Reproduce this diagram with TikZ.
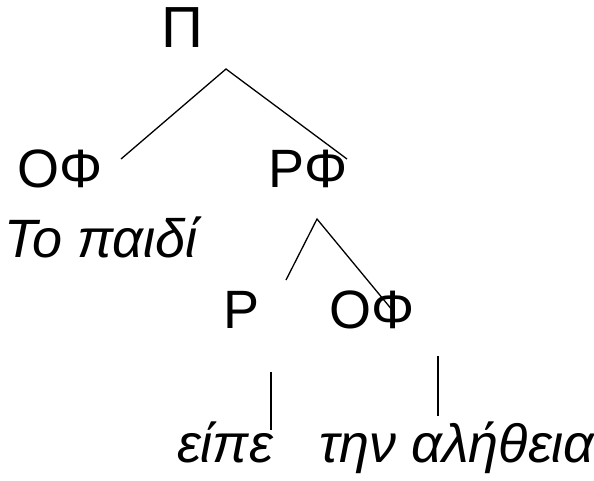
\documentclass[tikz,border=0pt]{standalone}
\usepackage{fontspec}
\setmainfont{Liberation Sans}
\usetikzlibrary{positioning}

\begin{document}
\begin{tikzpicture}[x=1pt,y=-1pt,
    cat/.style={anchor=base,inner sep=0pt,font=\fontsize{54}{62}\selectfont},
    word/.style={anchor=base,inner sep=0pt,font=\fontsize{54}{62}\selectfont\itshape},
    branch/.style={line width=1.3pt}]
    \useasboundingbox (0,0) rectangle (594,480);
    % categories
    \node[cat,font=\fontsize{58}{66}\selectfont] (s) at (182,47) {Π};
    \node[cat] (np1) at (60,187) {ΟΦ};
    \node[cat] (vp) at (308.5,187) {ΡΦ};
    \node[cat] (v) at (242,328) {Ρ};
    \node[cat] (np2) at (372.5,328) {ΟΦ};
    % words
    \node[word] (w1) at (101,257) {Το παιδί};
    \node[word] (w2) at (225,462) {είπε};
    \node[word] (w3) at (457,462) {την αλήθεια};
    % branch ends
    \coordinate (stop) at (226,69);
    \coordinate (sl) at (121,159);
    \coordinate (sr) at (347,159);
    \coordinate (vptop) at (317,219);
    \coordinate (vpl) at (286,280);
    \coordinate (vpr) at (393,311);
    \coordinate (vtop) at (271,372);
    \coordinate (vbot) at (271,430);
    \coordinate (nptop) at (438,356);
    \coordinate (npbot) at (438,416);
    \draw[branch] (sl) -- (stop) -- (sr);
    \draw[branch] (vpl) -- (vptop) -- (vpr);
    \draw[branch] (vtop) -- (vbot);
    \draw[branch] (nptop) -- (npbot);
\end{tikzpicture}
\end{document}
